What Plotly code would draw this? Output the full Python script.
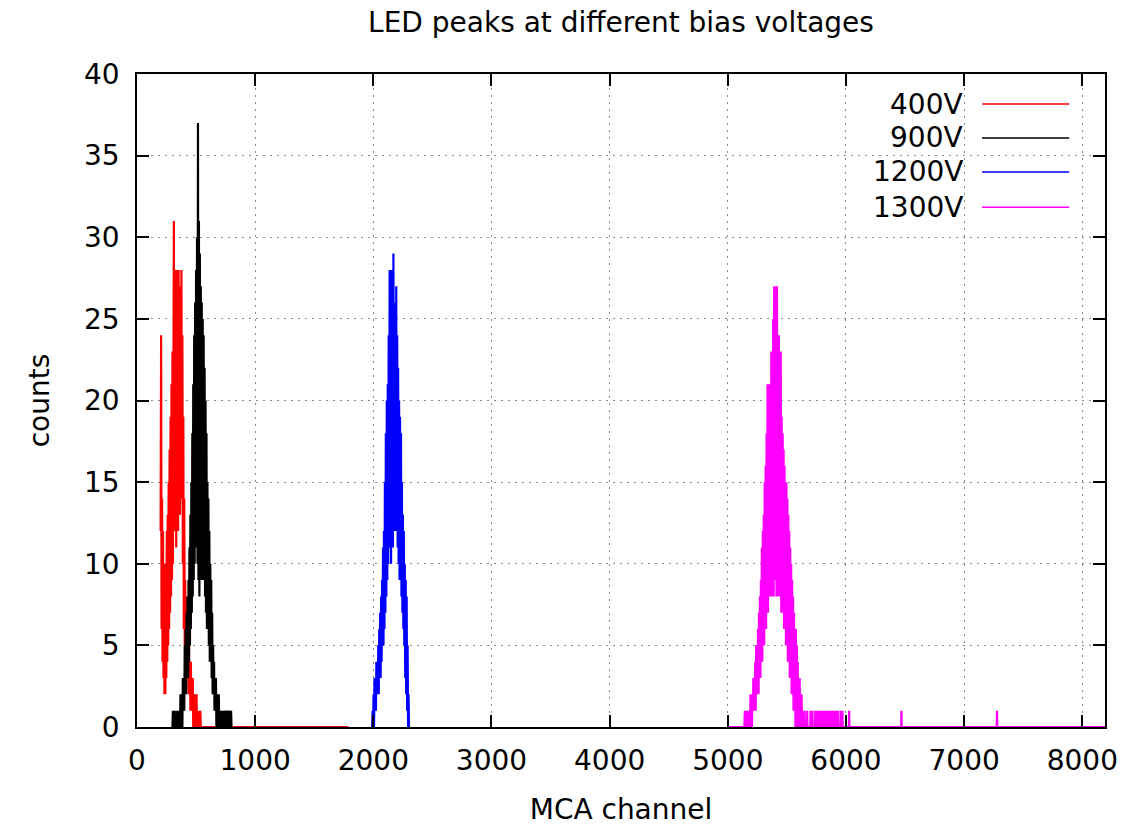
import numpy as np
import plotly.graph_objects as go

# ---------------- data ----------------
series_names = ["400V", "900V", "1200V", "1300V"]
series_colors = ["#ff0000", "#000000", "#0000ff", "#ff00ff"]

# 400V : dense part, channels 200..548 step 4
red_start, red_step = 200, 4
red_counts = [12, 24, 6, 14, 4, 12, 3, 10, 2, 8, 2, 10, 3, 12, 4, 13, 5, 15, 6, 17,
              7, 19, 8, 21, 9, 23, 10, 26, 31, 12, 28, 14, 27, 11, 28, 15, 26, 12, 28, 16,
              25, 13, 27, 15, 28, 14, 24, 10, 19, 6, 14, 5, 9, 4, 8, 3, 7, 3, 6, 2,
              5, 2, 4, 1, 4, 1, 3, 1, 3, 0, 2, 1, 2, 0, 2, 0, 2, 0, 1, 0,
              1, 0, 1, 0, 1, 0, 0, 0]
red_tail_ch = [1790]
red_tail_counts = [0]

# 900V : dense part, channels 300..800 step 4
black_start, black_step = 300, 4
black_counts = [0, 1, 0, 1, 0, 1, 0, 1, 0, 1, 0, 1, 0, 1, 0, 1, 0, 2, 0, 1,
                2, 0, 3, 1, 3, 1, 5, 2, 6, 2, 7, 3, 8, 3, 9, 4, 11, 5, 13, 6,
                15, 7, 18, 8, 21, 9, 24, 10, 26, 11, 28, 12, 30, 10, 37, 9, 31, 8, 29, 9,
                27, 10, 26, 9, 25, 10, 24, 9, 22, 8, 20, 7, 18, 6, 15, 6, 14, 5, 12, 4,
                10, 4, 9, 3, 7, 2, 5, 2, 4, 1, 3, 1, 3, 0, 2, 1, 2, 0, 2, 0,
                1, 0, 1, 0, 1, 0, 1, 0, 0, 1, 0, 0, 1, 0, 0, 1, 0, 0, 1, 0,
                0, 1, 0, 0, 1, 0]

# 1200V : dense part, channels 1990..2302 step 4
blue_start, blue_step = 1990, 4
blue_counts = [0, 1, 0, 2, 0, 3, 1, 3, 1, 4, 2, 4, 2, 5, 2, 6, 3, 7, 3, 8,
               4, 9, 5, 11, 5, 12, 6, 15, 7, 18, 8, 20, 9, 21, 10, 24, 11, 28, 12, 26,
               10, 28, 13, 27, 11, 29, 14, 26, 12, 25, 14, 27, 12, 24, 11, 22, 10, 20, 9, 19,
               9, 18, 8, 15, 7, 13, 6, 12, 5, 10, 3, 9, 2, 8, 1, 5, 0, 2, 0]

# 1300V : flat start, dense part 5140..5636 step 4, sparse tail
mag_head_ch = [5010]
mag_head_counts = [0]
mag_start, mag_step = 5140, 4
mag_counts = [0, 1, 0, 1, 0, 1, 0, 1, 0, 1, 0, 1, 0, 2, 0, 2, 0, 2, 1, 3,
              1, 3, 1, 4, 1, 5, 2, 5, 2, 6, 2, 7, 3, 8, 3, 9, 4, 11, 4, 12,
              5, 13, 5, 15, 6, 16, 6, 18, 7, 21, 7, 19, 8, 21, 8, 20, 9, 23, 8, 21,
              9, 25, 8, 27, 10, 27, 9, 22, 8, 27, 9, 21, 8, 24, 9, 20, 8, 23, 7, 19,
              8, 18, 7, 17, 6, 16, 6, 15, 5, 15, 5, 14, 4, 13, 4, 12, 3, 11, 3, 10,
              2, 9, 2, 8, 1, 7, 1, 6, 0, 6, 0, 5, 0, 4, 0, 3, 0, 3, 0, 2,
              0, 2, 0, 1, 0]
mag_tail_ch = [5648, 5650, 5652, 5670, 5672, 5674, 5698, 5700, 5702, 5714, 5716, 5718,
               5738, 5740, 5742, 5750, 5752, 5754, 5768, 5770, 5772, 5788, 5790, 5792,
               5804, 5806, 5808, 5818, 5820, 5822, 5836, 5838, 5840, 5850, 5852, 5854,
               5868, 5870, 5872, 5882, 5884, 5886, 5898, 5900, 5902, 5916, 5918, 5920,
               5932, 5934, 5936, 5955, 5957, 5959, 5968, 5970, 5972, 6025, 6027, 6029,
               6467, 6469, 6471, 7276, 7278, 7280, 8191]
mag_tail_counts = [0, 1, 0, 0, 1, 0, 0, 1, 0, 0, 1, 0,
                   0, 1, 0, 0, 1, 0, 0, 1, 0, 0, 1, 0,
                   0, 1, 0, 0, 1, 0, 0, 1, 0, 0, 1, 0,
                   0, 1, 0, 0, 1, 0, 0, 1, 0, 0, 1, 0,
                   0, 1, 0, 0, 1, 0, 0, 1, 0, 0, 1, 0,
                   0, 1, 0, 0, 1, 0, 0]

x_ticks = [0, 1000, 2000, 3000, 4000, 5000, 6000, 7000, 8000]
y_ticks = [0, 5, 10, 15, 20, 25, 30, 35, 40]

# ---------------- assemble series ----------------
def dense(start, step, counts):
    return list(start + step * np.arange(len(counts))), list(counts)

rx, ry = dense(red_start, red_step, red_counts)
rx += red_tail_ch; ry += red_tail_counts
kx, ky = dense(black_start, black_step, black_counts)
bx, by = dense(blue_start, blue_step, blue_counts)
mx, my = dense(mag_start, mag_step, mag_counts)
mx = mag_head_ch + mx + mag_tail_ch
my = mag_head_counts + my + mag_tail_counts

series = [(rx, ry), (kx, ky), (bx, by), (mx, my)]

FONT = "DejaVu Sans"
fig = go.Figure()
for (xs, ys), name, col in zip(series, series_names, series_colors):
    fig.add_trace(go.Scatter(x=xs, y=ys, mode="lines", name=name,
                             line=dict(color=col, width=2.2), showlegend=False))

# gnuplot-style legend (text left, sample line right), in paper coordinates
leg_y = [0.954, 0.902, 0.850, 0.796]
for name, col, yy in zip(series_names, series_colors, leg_y):
    fig.add_annotation(x=0.855, y=yy, xref="paper", yref="paper", text=name,
                       showarrow=False, xanchor="right", yanchor="middle",
                       font=dict(family=FONT, size=28, color="#000"))
    fig.add_shape(type="line", xref="paper", yref="paper", x0=0.873, x1=0.963,
                  y0=yy, y1=yy, line=dict(color=col, width=1.6))

axis_common = dict(showline=True, linecolor="#000", linewidth=1.6, mirror="ticks",
                   ticks="inside", ticklen=12, tickwidth=1.6, tickcolor="#000",
                   showgrid=True, gridcolor="#8a8a8a", gridwidth=1.2, griddash="1.5px,5.5px",
                   zeroline=False, automargin=False,
                   tickfont=dict(family=FONT, size=28, color="#000"))

fig.update_xaxes(range=[0, 8192], tickvals=x_ticks, ticktext=[str(v) for v in x_ticks],
                 title=dict(text="MCA channel", font=dict(family=FONT, size=28, color="#000"), standoff=28),
                 ticklabelstandoff=8, **axis_common)
fig.update_yaxes(range=[0, 40], tickvals=y_ticks, ticktext=[str(v) for v in y_ticks],
                 title=dict(text="counts", font=dict(family=FONT, size=28, color="#000"), standoff=26),
                 ticklabelstandoff=10, **axis_common)

fig.update_layout(width=1139, height=826, plot_bgcolor="white", paper_bgcolor="white",
                  margin=dict(l=137, r=34, t=74, b=99, autoexpand=False),
                  title=dict(text="LED peaks at different bias voltages", x=0.5, xanchor="center",
                             xref="paper", y=0.973, yanchor="middle",
                             font=dict(family=FONT, size=28, color="#000")),
                  showlegend=False)

fig.write_html("out.html")
